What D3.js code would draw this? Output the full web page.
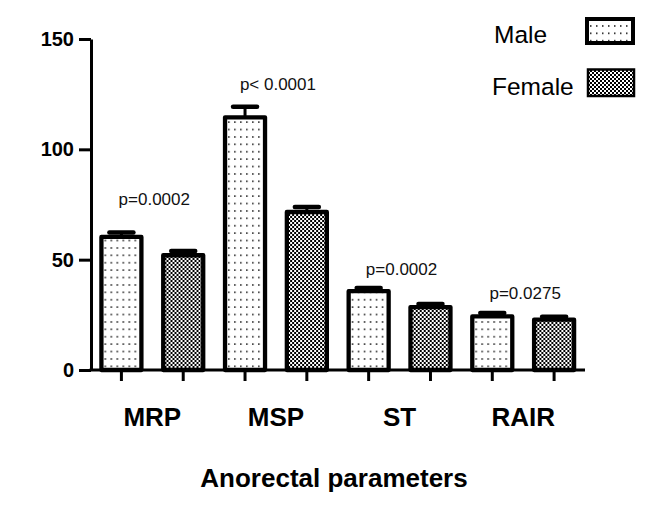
<!DOCTYPE html>
<html>
<head>
<meta charset="utf-8">
<script src="https://cdn.jsdelivr.net/npm/d3@7"></script>
<style>
  html, body { margin: 0; padding: 0; background: #fff; }
  svg { display: block; font-family: "Liberation Sans", Arial, sans-serif; }
</style>
</head>
<body>
<script>
// ---- data ----
const categories = ["MRP", "MSP", "ST", "RAIR"];
const seriesNames = ["Male", "Female"];
const maleValues = [60.3, 114.5, 35.7, 24.3];
const maleErrors = [2.0, 4.8, 1.5, 1.5];
const femaleValues = [52.0, 71.6, 28.5, 22.8];
const femaleErrors = [1.9, 2.3, 1.4, 1.3];
const pLabels = ["p=0.0002", "p< 0.0001", "p=0.0002", "p=0.0275"];
const pLabelLevels = [74.8, 126.9, 43.0, 32.2];
const yTicks = [0, 50, 100, 150];
const xTitle = "Anorectal parameters";

const W = 671, H = 514;
const svg = d3.select("body").append("svg").attr("width", W).attr("height", H);

// patterns
const defs = svg.append("defs");
const dots = defs.append("pattern").attr("id", "dots")
  .attr("patternUnits", "userSpaceOnUse").attr("width", 6).attr("height", 7.4);
dots.append("rect").attr("width", 6).attr("height", 7.4).attr("fill", "#fff");
dots.append("rect").attr("x", 2).attr("y", 3).attr("width", 1.5).attr("height", 1.5).attr("fill", "#111");

const checks = defs.append("pattern").attr("id", "checks")
  .attr("patternUnits", "userSpaceOnUse").attr("width", 4).attr("height", 4);
checks.append("rect").attr("width", 4).attr("height", 4).attr("fill", "#fff");
checks.append("rect").attr("x", 0).attr("y", 0).attr("width", 2).attr("height", 2).attr("fill", "#000");
checks.append("rect").attr("x", 2).attr("y", 2).attr("width", 2).attr("height", 2).attr("fill", "#000");

const fills = { Male: "url(#dots)", Female: "url(#checks)" };

// scales
const x0 = d3.scaleBand().domain(categories).range([90.5, 585]).paddingInner(0).paddingOuter(0);
const x1 = d3.scalePoint().domain(seriesNames).range([0, x0.bandwidth()]).padding(0.5);
const y = d3.scaleLinear().domain([0, 150]).range([370, 39]);
const barW = 40;

const rows = categories.map((c, i) => ({
  cat: c,
  bars: [
    { s: "Male", v: maleValues[i], e: maleErrors[i] },
    { s: "Female", v: femaleValues[i], e: femaleErrors[i] }
  ]
}));

// bars + error bars
const g = svg.append("g");
const groups = g.selectAll("g.grp").data(rows).join("g")
  .attr("class", "grp")
  .attr("transform", d => `translate(${x0(d.cat)},0)`);

groups.selectAll("line.err").data(d => d.bars).join("line")
  .attr("class", "err")
  .attr("x1", d => x1(d.s)).attr("x2", d => x1(d.s))
  .attr("y1", d => y(d.v)).attr("y2", d => y(d.v + d.e))
  .attr("stroke", "#000").attr("stroke-width", 3);
groups.selectAll("line.cap").data(d => d.bars).join("line")
  .attr("class", "cap")
  .attr("x1", d => x1(d.s) - 12).attr("x2", d => x1(d.s) + 12)
  .attr("y1", d => y(d.v + d.e)).attr("y2", d => y(d.v + d.e))
  .attr("stroke", "#000").attr("stroke-width", 4.5).attr("stroke-linecap", "round");

groups.selectAll("rect.bar").data(d => d.bars).join("rect")
  .attr("class", "bar")
  .attr("x", d => x1(d.s) - barW / 2)
  .attr("y", d => y(d.v))
  .attr("width", barW)
  .attr("height", d => y(0) - y(d.v))
  .attr("fill", d => fills[d.s])
  .attr("stroke", "#000").attr("stroke-width", 4.3)
  .attr("stroke-linejoin", "round");

// y axis
const yAxis = svg.append("g").attr("transform", "translate(91,0)")
  .call(d3.axisLeft(y).tickValues(yTicks).tickSize(12).tickSizeOuter(0).tickPadding(5));
yAxis.select(".domain").attr("stroke-width", 3);
yAxis.selectAll(".tick line").attr("stroke-width", 3);
yAxis.selectAll(".tick text").attr("font-size", 20).attr("font-weight", "bold")
  .attr("font-family", "Liberation Sans, Arial, sans-serif").attr("fill", "#000");

// x axis line
svg.append("line").attr("x1", 89.5).attr("x2", x0.range()[1])
  .attr("y1", y(0)).attr("y2", y(0)).attr("stroke", "#000").attr("stroke-width", 3);

// x ticks under each bar
groups.selectAll("line.xt").data(d => d.bars).join("line")
  .attr("class", "xt")
  .attr("x1", d => x1(d.s)).attr("x2", d => x1(d.s))
  .attr("y1", y(0)).attr("y2", y(0) + 11)
  .attr("stroke", "#000").attr("stroke-width", 3);

// category labels
svg.selectAll("text.cat").data(categories).join("text")
  .attr("class", "cat")
  .attr("x", d => x0(d) + x0.bandwidth() / 2)
  .attr("y", 426)
  .attr("text-anchor", "middle")
  .attr("font-size", 26).attr("font-weight", "bold")
  .text(d => d);

// p labels
svg.selectAll("text.p").data(pLabels).join("text")
  .attr("class", "p")
  .attr("x", (d, i) => x0(categories[i]) + x0.bandwidth() / 2 + 2)
  .attr("y", (d, i) => y(pLabelLevels[i]))
  .attr("text-anchor", "middle")
  .attr("font-size", 17)
  .attr("fill", "#111")
  .text(d => d);

// axis title
svg.append("text").attr("x", 334).attr("y", 487)
  .attr("text-anchor", "middle").attr("font-size", 26).attr("font-weight", "bold")
  .text(xTitle);

// legend
const legend = svg.append("g");
const legendRows = [
  { s: seriesNames[0], ty: 43, tx: 494, bx: 587, by: 19, bw: 46, bh: 24, sw: 4 },
  { s: seriesNames[1], ty: 95, tx: 492, bx: 588, by: 69.5, bw: 46, bh: 26.5, sw: 2.5 }
];
legend.selectAll("text").data(legendRows).join("text")
  .attr("x", d => d.tx).attr("y", d => d.ty)
  .attr("font-size", 24.5).attr("fill", "#000")
  .text(d => d.s);
legend.selectAll("rect").data(legendRows).join("rect")
  .attr("x", d => d.bx).attr("y", d => d.by)
  .attr("width", d => d.bw).attr("height", d => d.bh)
  .attr("fill", d => fills[d.s])
  .attr("stroke", "#000").attr("stroke-width", d => d.sw);
</script>
</body>
</html>
